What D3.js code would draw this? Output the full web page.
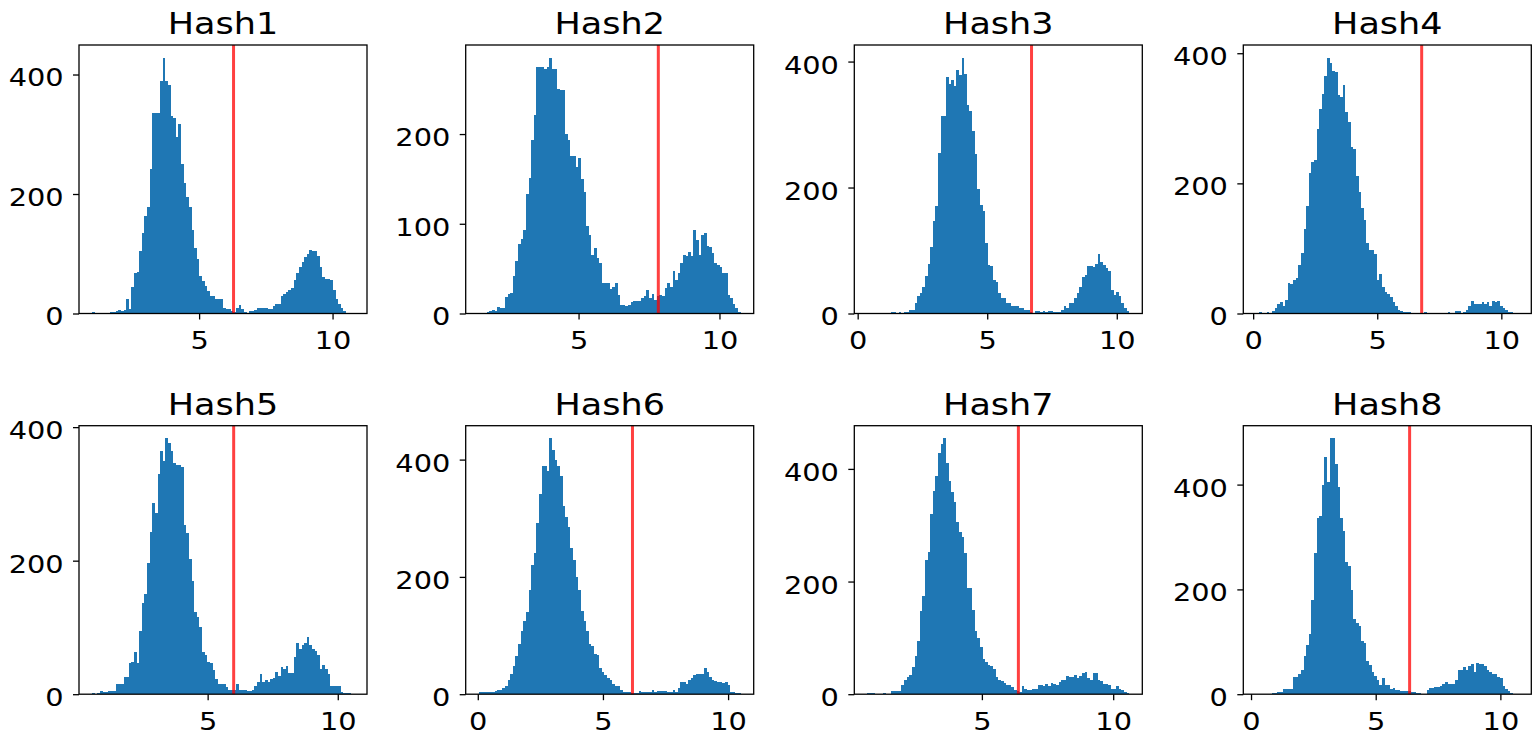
<!DOCTYPE html>
<html>
<head>
<meta charset="utf-8">
<script src="https://cdn.jsdelivr.net/npm/d3@7"></script>
<style>
  html, body { margin: 0; padding: 0; background: #ffffff; }
  svg { display: block; }
  text { font-family: "DejaVu Sans", "Liberation Sans", sans-serif; fill: #000; }
</style>
</head>
<body>
<svg id="chart" width="1539" height="734"></svg>
<script>
// Panel titles
const titles = ["Hash1", "Hash2", "Hash3", "Hash4", "Hash5", "Hash6", "Hash7", "Hash8"];

// Histogram range (smallest and largest value) of each panel; 100 equal bins in between
const binStart = [0.99, 1.46, 0.375, 0.13, 0.56, 0.04, 0.64, 0.215];
const binEnd   = [10.80, 10.75, 10.48, 10.68, 10.62, 10.50, 10.61, 10.715];

// Threshold marked by the vertical red line
const thresholds = [6.29, 7.83, 6.71, 6.79, 6.00, 6.18, 6.39, 6.36];

// Tick labels
const xTicks = [[5, 10], [5, 10], [0, 5, 10], [0, 5, 10], [5, 10], [0, 5, 10], [5, 10], [0, 5, 10]];
const yTicks = [[0, 200, 400], [0, 100, 200], [0, 200, 400], [0, 200, 400],
                [0, 200, 400], [0, 200, 400], [0, 200, 400], [0, 200, 400]];

// Bin counts
const counts1 = [2,0,0,0,0,0,0,2,3,4, 6,5,6,25,8,45,68,70,104,134,
  164,178,242,335,335,335,389,428,389,383, 331,327,295,318,251,218,195,178,140,109,
  92,62,54,46,38,29,29,25,25,25, 10,8,8,5,2,10,14,7,2,1,
  5,5,6,9,10,10,10,8,8,12, 16,16,29,32,36,39,42,56,68,78,
  86,95,100,107,104,105,96,78,61,58, 58,56,39,25,16,10,5,1,0,1];
const counts2 = [1,0,0,2,3,4,3,7,6,6, 18,22,23,42,59,77,83,93,133,151,
  193,221,275,275,275,272,275,285,273,273, 250,249,249,200,193,176,176,163,173,150,
  135,97,88,65,73,62,56,34,34,34, 27,30,34,21,9,10,8,10,13,14,
  14,14,17,19,26,17,22,15,20,21, 19,28,34,29,47,37,45,56,65,64,
  69,64,93,82,65,87,90,75,74,67, 56,54,52,45,45,21,17,11,6,2];
const counts3 = [1,0,0,0,0,0,0,0,0,2, 2,1,2,1,3,3,5,5,17,28,
  32,42,59,79,105,147,170,255,314,313, 375,364,370,361,387,379,406,380,331,321,
  290,254,197,172,163,112,77,75,53,50, 33,24,24,17,16,12,12,12,8,8,
  5,5,2,0,4,4,2,4,2,4, 4,3,3,3,5,12,8,17,16,24,
  33,42,58,61,75,76,74,78,95,82, 77,72,68,38,29,34,28,16,8,4];
const counts4 = [1,3,0,0,3,1,4,8,14,18, 11,20,47,46,52,54,74,93,130,165,
  216,233,236,283,314,337,365,393,385,372, 371,336,333,351,310,294,256,253,212,186,
  162,143,108,98,97,91,51,61,41,33, 30,26,18,11,5,4,3,3,3,0,
  0,0,0,0,2,0,0,0,0,0, 0,1,1,2,1,1,4,4,1,3,
  5,12,19,14,14,14,18,14,18,11, 19,18,19,11,8,5,3,3,0,1];
const counts5 = [2,1,2,5,3,3,5,5,5,15, 15,15,26,26,47,48,63,47,95,136,
  150,196,243,287,272,330,364,350,383,376, 364,346,344,344,340,253,242,202,170,123,
  115,100,63,58,48,46,36,23,16,16, 16,11,6,6,6,15,7,7,7,5,
  5,7,13,18,31,18,21,18,23,24, 33,27,41,38,42,32,32,55,76,67,
  73,76,86,73,68,65,58,38,43,37, 31,13,12,12,12,3,2,2,2,1];
const counts6 = [3,3,3,3,3,3,6,8,8,10, 14,24,35,48,65,86,107,124,140,177,
  220,240,292,342,389,389,380,436,417,400, 389,372,321,302,285,250,229,200,178,142,
  124,108,86,83,69,66,44,38,33,28, 24,17,14,14,8,4,4,3,2,2,
  2,6,3,3,3,3,8,4,6,6, 6,6,4,4,8,4,10,21,21,17,
  24,28,32,35,35,35,44,38,29,25, 22,21,21,19,21,15,4,4,2,2];
const counts7 = [2,2,2,1,0,1,2,0,0,6, 6,6,6,16,26,31,34,48,67,94,
  148,174,238,253,320,360,388,428,444,454, 410,379,359,341,305,288,279,250,189,189,
  149,113,99,83,63,57,51,50,44,31, 25,24,20,16,16,12,8,6,4,14,
  10,8,8,10,10,16,16,14,18,14, 19,18,16,22,26,26,32,31,31,34,
  28,32,37,40,28,25,38,38,26,24, 18,18,16,10,10,14,10,8,4,2];
const counts8 = [1,0,0,0,0,0,3,3,4,4, 10,10,10,10,32,32,38,46,72,93,
  114,180,269,337,341,400,452,405,488,488, 440,395,337,311,252,244,199,144,135,131,
  102,98,63,55,43,34,27,17,30,17, 17,9,11,8,8,6,6,6,6,4,
  4,3,3,1,1,8,11,11,13,13, 15,19,23,19,20,19,27,46,47,51,
  47,53,58,43,59,57,57,53,47,43, 39,39,33,30,15,9,6,3,0,1];
const counts = [counts1, counts2, counts3, counts4, counts5, counts6, counts7, counts8];

// Grid layout
const colLeft = [79, 465.7, 854.3, 1243.3];
const rowTop = [45, 425.7];
const plotW = 288, plotH = 268.5;

const barColor = "#1f77b4";
const lineColor = "red";
const tickFont = 25.5, titleFont = 31;
const textStretch = 1.13;   // glyphs are drawn slightly wide
const tickLen = 6, yLabelGap = 15.4, xLabelPad = 11.4;

const svg = d3.select("#chart");

counts.forEach((vals, i) => {
  const col = i % 4, row = Math.floor(i / 4);
  const lo = binStart[i], hi = binEnd[i];
  const span = hi - lo;
  const nb = vals.length;
  const bw = span / nb;

  const x = d3.scaleLinear()
    .domain([lo - 0.05 * span, hi + 0.05 * span])
    .range([0, plotW]);
  const y = d3.scaleLinear()
    .domain([0, 1.05 * d3.max(vals)])
    .range([plotH, 0]);

  const g = svg.append("g")
    .attr("transform", `translate(${colLeft[col]},${rowTop[row]})`);

  // bars
  const bins = vals.map((c, k) => ({ x0: lo + k * bw, x1: lo + (k + 1) * bw, c }));
  g.append("g")
    .attr("shape-rendering", "crispEdges")
    .selectAll("rect")
    .data(bins.filter(b => b.c > 0))
    .join("rect")
    .attr("x", d => x(d.x0))
    .attr("width", d => x(d.x1) - x(d.x0))
    .attr("y", d => y(d.c))
    .attr("height", d => y(0) - y(d.c))
    .attr("fill", barColor);

  // threshold line
  g.append("line")
    .attr("x1", x(thresholds[i])).attr("x2", x(thresholds[i]))
    .attr("y1", 0).attr("y2", plotH)
    .attr("stroke", lineColor)
    .attr("stroke-opacity", 0.75)
    .attr("stroke-width", 3);

  // axes
  const xAxis = g.append("g")
    .attr("transform", `translate(0,${plotH})`)
    .call(d3.axisBottom(x).tickValues(xTicks[i]).tickFormat(d3.format("d"))
      .tickSize(tickLen).tickPadding(xLabelPad));
  const yAxis = g.append("g")
    .call(d3.axisLeft(y).tickValues(yTicks[i]).tickFormat(d3.format("d"))
      .tickSize(tickLen).tickPadding(yLabelGap - tickLen));
  [xAxis, yAxis].forEach(a => {
    a.select(".domain").remove();
    a.selectAll(".tick line").attr("stroke", "#000").attr("stroke-width", 1.3);
    a.selectAll(".tick text")
      .attr("fill", "#000")
      .style("font-family", "'DejaVu Sans', sans-serif")
      .style("font-size", tickFont + "px");
  });
  xAxis.selectAll(".tick text")
    .attr("transform", `scale(${textStretch},1)`);
  yAxis.selectAll(".tick text")
    .attr("x", 0)
    .attr("dy", "0.45em")
    .attr("transform", `translate(${-yLabelGap},0) scale(${textStretch},1)`);

  // frame
  g.append("rect")
    .attr("x", 0).attr("y", 0)
    .attr("width", plotW).attr("height", plotH)
    .attr("fill", "none")
    .attr("stroke", "#000")
    .attr("stroke-width", 1.3);

  // title
  g.append("text")
    .attr("transform", `translate(${plotW / 2},${-10.7}) scale(${textStretch},1)`)
    .attr("text-anchor", "middle")
    .style("font-size", titleFont + "px")
    .text(titles[i]);
});
</script>
</body>
</html>
